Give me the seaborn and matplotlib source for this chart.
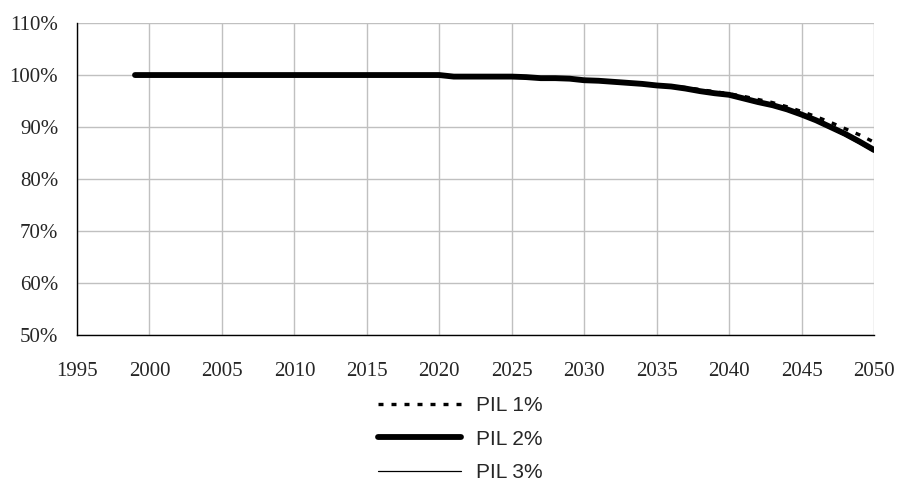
import matplotlib
matplotlib.use("Agg")
import matplotlib.pyplot as plt
import matplotlib.ticker as mticker
import seaborn as sns
import pandas as pd

years = list(range(1999, 2051))

pil_2 = [100.0] * 22 + [
    99.7, 99.7, 99.7, 99.7, 99.7, 99.6, 99.4, 99.4, 99.3, 99.0,
    98.9, 98.7, 98.5, 98.3, 98.0, 97.8, 97.4, 96.9, 96.5, 96.2,
    95.5, 94.8, 94.2, 93.4, 92.4, 91.3, 90.0, 88.7, 87.2, 85.6,
]
pil_1 = [100.0] * 22 + [
    99.7, 99.7, 99.7, 99.7, 99.7, 99.6, 99.4, 99.4, 99.3, 99.0,
    98.9, 98.7, 98.5, 98.3, 98.1, 97.9, 97.6, 97.2, 96.8, 96.4,
    95.9, 95.3, 94.7, 93.9, 93.0, 92.0, 90.9, 89.7, 88.5, 87.1,
]
pil_3 = [100.0] * 22 + [
    99.7, 99.7, 99.7, 99.7, 99.7, 99.6, 99.4, 99.4, 99.3, 99.0,
    98.9, 98.7, 98.5, 98.3, 98.0, 97.7, 97.3, 96.8, 96.4, 96.0,
    95.3, 94.6, 93.9, 93.1, 92.1, 91.0, 89.7, 88.3, 86.8, 85.2,
]

series_names = ["PIL 1%", "PIL 2%", "PIL 3%"]

df = pd.DataFrame({
    "Anno": years * 3,
    "Valore": pil_1 + pil_2 + pil_3,
    "Serie": [s for s in series_names for _ in years],
})

sns.set_style("white")

fig = plt.figure(figsize=(9.01, 4.80), dpi=100)
ax = fig.add_axes([0.0855, 0.302, 0.8845, 0.650])

styles = {
    "PIL 1%": dict(linewidth=2.4, linestyle=(0, (1.5, 2.4)), dash_capstyle="butt"),
    "PIL 2%": dict(linewidth=4.2, linestyle="-", solid_capstyle="round"),
    "PIL 3%": dict(linewidth=0.9, linestyle="-"),
}

for name in series_names:
    sub = df[df["Serie"] == name]
    sns.lineplot(data=sub, x="Anno", y="Valore", ax=ax, color="black",
                 label=name, legend=False, **styles[name])

ax.set_xlim(1995, 2050)
ax.set_ylim(50, 110)
ax.set_xticks(range(1995, 2051, 5))
ax.set_yticks(range(50, 111, 10))
ax.yaxis.set_major_formatter(mticker.FuncFormatter(lambda v, p: f"{int(v)}%"))
ax.set_xlabel("")
ax.set_ylabel("")

ax.grid(True, color="#c0c0c0", linewidth=1.0)
ax.set_axisbelow(True)
for side in ["top", "right"]:
    ax.spines[side].set_visible(False)
for side in ["left", "bottom"]:
    ax.spines[side].set_color("black")
    ax.spines[side].set_linewidth(1.0)

ax.tick_params(axis="both", direction="out", length=5.5, width=1, color="black",
               labelsize=15)
ax.tick_params(axis="x", pad=14)
ax.tick_params(axis="y", pad=8)
for lbl in ax.get_xticklabels() + ax.get_yticklabels():
    lbl.set_fontfamily("Liberation Serif")

handles, labels = ax.get_legend_handles_labels()
fig.legend(handles, labels, loc="upper left", bbox_to_anchor=(0.4195, 0.174),
           frameon=False, ncol=1, handlelength=4.0, handletextpad=0.72,
           labelspacing=0.68, borderpad=0, borderaxespad=0,
           prop={"family": "Liberation Sans", "size": 15})

fig.savefig("out.png", dpi=100)
